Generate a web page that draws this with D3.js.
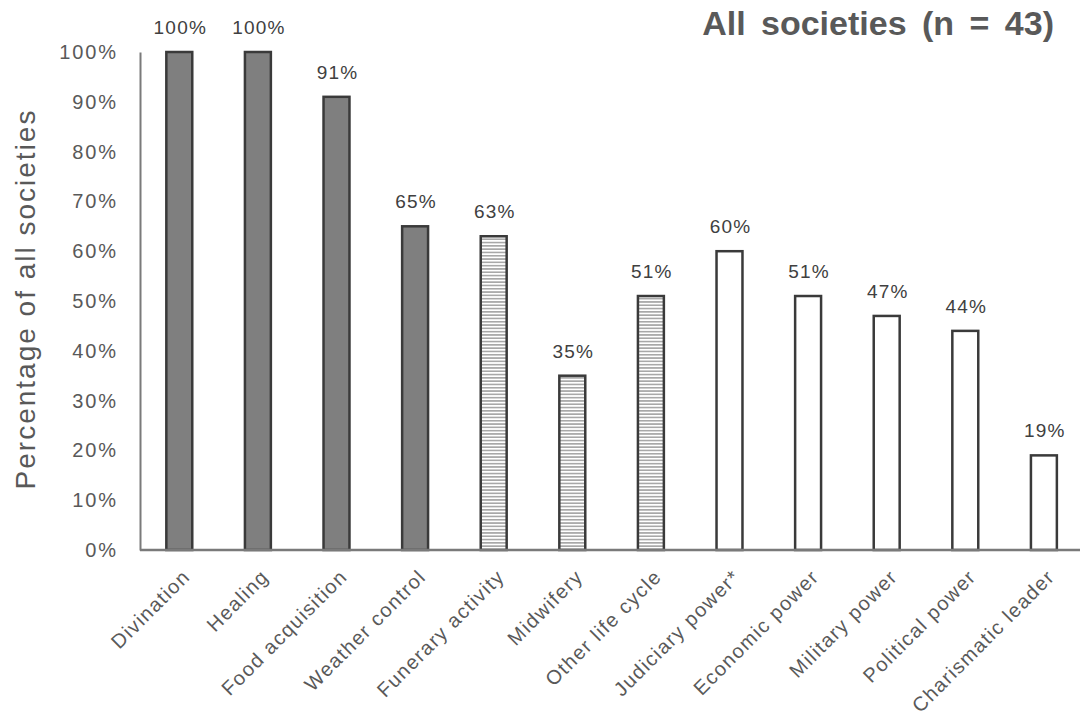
<!DOCTYPE html>
<html>
<head>
<meta charset="utf-8">
<script src="https://cdn.jsdelivr.net/npm/d3@7"></script>
<style>
  body { margin: 0; background: #fff; }
  svg { display: block; font-family: "Liberation Sans", Arial, sans-serif; }
</style>
</head>
<body>
<script>
const width = 1080;
const height = 717;

const categories = ["Divination", "Healing", "Food acquisition", "Weather control", "Funerary activity",
  "Midwifery", "Other life cycle", "Judiciary power*", "Economic power", "Military power",
  "Political power", "Charismatic leader"];
const values = [100, 100, 91, 65, 63, 35, 51, 60, 51, 47, 44, 19];
const kinds = ["solid", "solid", "solid", "solid", "hatch", "hatch", "hatch", "open", "open", "open", "open", "open"];
const yTicks = [0, 10, 20, 30, 40, 50, 60, 70, 80, 90, 100];

const margin = {left: 140, top: 52, bottom: 167};

const svg = d3.select("body").append("svg")
  .attr("width", width)
  .attr("height", height);

const defs = svg.append("defs");
const pat = defs.append("pattern")
  .attr("id", "hatch")
  .attr("patternUnits", "userSpaceOnUse")
  .attr("width", 8)
  .attr("height", 3.3);
pat.append("rect").attr("width", 8).attr("height", 3.3).attr("fill", "#fff");
pat.append("line")
  .attr("x1", 0).attr("x2", 8)
  .attr("y1", 1.65).attr("y2", 1.65)
  .attr("stroke", "#707070")
  .attr("stroke-width", 1);

const x = d3.scaleBand()
  .domain(categories)
  .range([margin.left, margin.left + 12 * 78.6])
  .paddingInner(0.67)
  .paddingOuter(0.335);

const y = d3.scaleLinear()
  .domain([0, 100])
  .range([height - margin.bottom, margin.top]);

// y axis
const yAxis = d3.axisLeft(y)
  .tickValues(yTicks)
  .tickFormat(d => d + "%")
  .tickSize(0)
  .tickPadding(22);

const gy = svg.append("g")
  .attr("transform", `translate(${margin.left},0)`)
  .call(yAxis);
gy.select(".domain").attr("stroke", "#7a7a7a").attr("stroke-width", 2);
gy.selectAll("text")
  .attr("font-size", 20)
  .attr("letter-spacing", 1.9)
  .attr("fill", "#595959")
  .attr("font-family", "Liberation Sans, Arial, sans-serif");

// bars
const fillFor = k => k === "solid" ? "#7f7f7f" : k === "hatch" ? "url(#hatch)" : "#fff";

svg.append("g").selectAll("rect")
  .data(categories)
  .join("rect")
  .attr("x", d => x(d))
  .attr("width", x.bandwidth())
  .attr("y", (d, i) => y(values[i]))
  .attr("height", (d, i) => y(0) - y(values[i]))
  .attr("fill", (d, i) => fillFor(kinds[i]))
  .attr("stroke", "#3a3a3a")
  .attr("stroke-width", 2.5);

// x axis line
const xAxis = d3.axisBottom(x).tickSize(0).tickFormat("");
const gx = svg.append("g")
  .attr("transform", `translate(0,${y(0)})`)
  .call(xAxis);
gx.select(".domain")
  .attr("d", `M${margin.left},0H${width}`)
  .attr("stroke", "#7a7a7a")
  .attr("stroke-width", 2.5);

// category labels
svg.append("g").selectAll("text")
  .data(categories)
  .join("text")
  .attr("transform", d => `translate(${x(d) + x.bandwidth() / 2 + 12},${y(0) + 28}) rotate(-45)`)
  .attr("text-anchor", "end")
  .attr("font-size", 20)
  .attr("letter-spacing", 1.4)
  .attr("fill", "#595959")
  .text(d => d);

// value labels
svg.append("g").selectAll("text")
  .data(categories)
  .join("text")
  .attr("x", d => x(d) + x.bandwidth() / 2 + 1)
  .attr("y", (d, i) => y(values[i]) - 18)
  .attr("text-anchor", "middle")
  .attr("font-size", 19)
  .attr("letter-spacing", 1.2)
  .attr("fill", "#404040")
  .text((d, i) => values[i] + "%");

// y title
svg.append("text")
  .attr("transform", `translate(35,${(y(0) + y(100)) / 2 - 2}) rotate(-90)`)
  .attr("text-anchor", "middle")
  .attr("font-size", 28)
  .attr("letter-spacing", 2)
  .attr("fill", "#595959")
  .text("Percentage of all societies");

// title
svg.append("text")
  .attr("x", 1054)
  .attr("y", 35)
  .attr("text-anchor", "end")
  .attr("font-size", 34)
  .attr("font-weight", "bold")
  .attr("fill", "#595959")
  .attr("word-spacing", 6)
  .text("All societies (n = 43)");
</script>
</body>
</html>
